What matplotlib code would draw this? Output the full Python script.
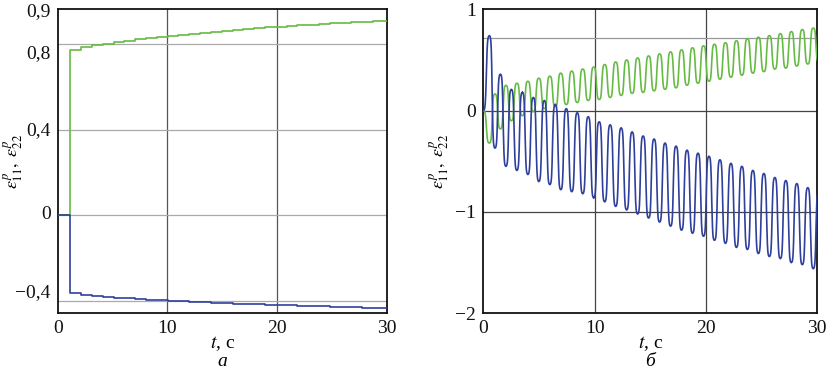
import numpy as np
import matplotlib
matplotlib.use("Agg")
import matplotlib.pyplot as plt
from matplotlib.ticker import FixedLocator, NullFormatter

# ---------------- data ----------------
# common timing of the loading cycles (s)
cycle_period = 0.986
step_start = 1.15          # first plastic step in panel (a)

# panel (a): step values of the plastic strains after each cycle
eps22_steps = [0.773, 0.786, 0.795, 0.803, 0.810, 0.817, 0.823, 0.829, 0.834, 0.840,
               0.845, 0.850, 0.855, 0.859, 0.863, 0.867, 0.871, 0.875, 0.879, 0.883,
               0.886, 0.889, 0.892, 0.895, 0.898, 0.901, 0.904, 0.906, 0.909, 0.911]
eps11_steps = [-0.364, -0.372, -0.377, -0.381, -0.385, -0.388, -0.391, -0.394, -0.397, -0.400,
               -0.402, -0.404, -0.406, -0.408, -0.410, -0.412, -0.414, -0.416, -0.418, -0.419,
               -0.421, -0.422, -0.424, -0.425, -0.427, -0.428, -0.430, -0.431, -0.433, -0.434]

# panel (b): extreme values of each oscillation cycle
blue_peaks = [0.74, 0.36, 0.21, 0.18, 0.13, 0.10, 0.06, 0.02, -0.02, -0.06,
              -0.11, -0.14, -0.17, -0.21, -0.25, -0.28, -0.32, -0.35, -0.39, -0.42,
              -0.45, -0.485, -0.52, -0.55, -0.59, -0.62, -0.66, -0.69, -0.72, -0.76, -0.79]
blue_troughs = [-0.37, -0.55, -0.59, -0.63, -0.70, -0.73, -0.78, -0.80, -0.82, -0.86,
                -0.90, -0.945, -0.98, -1.02, -1.06, -1.10, -1.14, -1.18, -1.21, -1.24,
                -1.28, -1.31, -1.35, -1.37, -1.41, -1.44, -1.46, -1.50, -1.52, -1.56]
green_troughs = [-0.32, -0.18, -0.10, -0.05, -0.01, 0.02, 0.04, 0.06, 0.08, 0.10,
                 0.11, 0.13, 0.15, 0.17, 0.18, 0.195, 0.21, 0.225, 0.25, 0.27,
                 0.29, 0.31, 0.33, 0.35, 0.37, 0.385, 0.41, 0.42, 0.44, 0.46, 0.48]
green_peaks = [0.165, 0.25, 0.27, 0.29, 0.32, 0.34, 0.37, 0.39, 0.41, 0.43,
               0.455, 0.48, 0.50, 0.52, 0.54, 0.56, 0.58, 0.60, 0.62, 0.64,
               0.655, 0.67, 0.69, 0.71, 0.725, 0.74, 0.76, 0.78, 0.80, 0.815]
first_extreme = 0.55       # time of the first extreme in panel (b)

x_ticks = [0, 10, 20, 30]
x_ticklabels = ["0", "10", "20", "30"]
a_grid_y = [-0.4, 0.0, 0.4, 0.8]
a_label_y = [-0.35, 0.014, 0.404, 0.764, 0.964]
a_ticklabels = ["\u22120,4", "0", "0,4", "0,8", "0,9"]
b_ticks_y = [-2, -1, 0, 1]
b_ticklabels = ["\u22122", "\u22121", "0", "1"]
b_ref_line = 0.72

GREEN = "#66bb44"
BLUE = "#2f3f9c"

# ---------------- helpers ----------------
def osc_curve(t_ext, v_ext, n=40, a=3.0):
    """smooth, steep-sided connection between successive extremes"""
    ts, vs = [], []
    u = np.linspace(0, 1, n)
    s = 0.5 + 0.5 * np.tanh(a * (2 * u - 1)) / np.tanh(a)
    for i in range(len(t_ext) - 1):
        ts.append(t_ext[i] + (t_ext[i + 1] - t_ext[i]) * u)
        vs.append(v_ext[i] + (v_ext[i + 1] - v_ext[i]) * s)
    return np.concatenate(ts), np.concatenate(vs)


def interleave(start_val, first, second, t0, half):
    t = [0.0]
    v = [start_val]
    k = 0
    while k < max(len(first), len(second)):
        if k < len(first):
            t.append(t0 + 2 * k * half)
            v.append(first[k])
        if k < len(second):
            t.append(t0 + (2 * k + 1) * half)
            v.append(second[k])
        k += 1
    return t, v


plt.rcParams["font.family"] = ["Liberation Serif", "DejaVu Serif"]
plt.rcParams["mathtext.fontset"] = "stix"

fig = plt.figure(figsize=(8.28, 3.71), dpi=100)
W, H = 828, 371
axA = fig.add_axes([57.7 / W, 1 - 312.7 / H, 329 / W, 303.4 / H])
axB = fig.add_axes([483.3 / W, 1 - 313.3 / H, 334 / W, 304 / H])

# ---------------- panel (a) ----------------
step_t = [0.0] + [step_start + k * cycle_period for k in range(len(eps22_steps))] + [30.0]
g_vals = [0.0] + eps22_steps + [eps22_steps[-1]]
b_vals = [0.0] + eps11_steps + [eps11_steps[-1]]
axA.step(step_t, g_vals, where="post", color=GREEN, lw=1.2, zorder=3)
axA.step(step_t, b_vals, where="post", color=BLUE, lw=1.2, zorder=4)
axA.set_xlim(0, 30)
axA.set_ylim(-0.455, 0.964)
axA.set_xticks(x_ticks)
axA.set_xticklabels(x_ticklabels)
axA.yaxis.set_major_locator(FixedLocator(a_label_y))
axA.set_yticklabels(a_ticklabels)
axA.yaxis.set_minor_locator(FixedLocator(a_grid_y))
axA.yaxis.set_minor_formatter(NullFormatter())
for gx in x_ticks[1:-1]:
    axA.axvline(gx, color="#555555", lw=0.9, zorder=1)
for gy in a_grid_y:
    axA.axhline(gy, color="#aaaaaa", lw=0.9, zorder=1)

# ---------------- panel (b) ----------------
half = cycle_period / 2
tb, vb = interleave(0.0, blue_peaks, blue_troughs, first_extreme, half)
tg, vg = interleave(0.0, green_troughs, green_peaks, first_extreme, half)
tb_c, vb_c = osc_curve(tb, vb)
tg_c, vg_c = osc_curve(tg, vg)
axB.plot(tg_c, vg_c, color=GREEN, lw=1.2, zorder=3)
axB.plot(tb_c, vb_c, color=BLUE, lw=1.2, zorder=4)
axB.set_xlim(0, 30)
axB.set_ylim(-2, 1)
axB.set_xticks(x_ticks)
axB.set_xticklabels(x_ticklabels)
axB.set_yticks(b_ticks_y)
axB.set_yticklabels(b_ticklabels)
for gx in x_ticks[1:-1]:
    axB.axvline(gx, color="#444444", lw=0.9, zorder=1)
for gy in b_ticks_y[1:-1]:
    axB.axhline(gy, color="#444444", lw=0.9, zorder=1)
axB.axhline(b_ref_line, color="#999999", lw=0.9, zorder=1)

ylabel = r"$\varepsilon^{p}_{11},\ \varepsilon^{p}_{22}$"
for ax, cap in ((axA, "а"), (axB, "б")):
    ax.tick_params(axis="both", which="both", length=0, labelsize=14, pad=5, colors="#111111")
    for sp in ax.spines.values():
        sp.set_color("#111111")
        sp.set_linewidth(1.3)
    ax.set_xlabel(r"$t$, с", fontsize=14)
    ax.xaxis.set_label_coords(0.5, -0.07)
    ax.set_ylabel(ylabel, fontsize=13)
    ax.yaxis.set_label_coords(-0.098, 0.5)
    pos = ax.get_position()
    fig.text(pos.x0 + pos.width / 2, 1 - 361 / H, cap, ha="center", va="center",
             fontsize=14, style="italic")

fig.savefig("out.png", dpi=100)
